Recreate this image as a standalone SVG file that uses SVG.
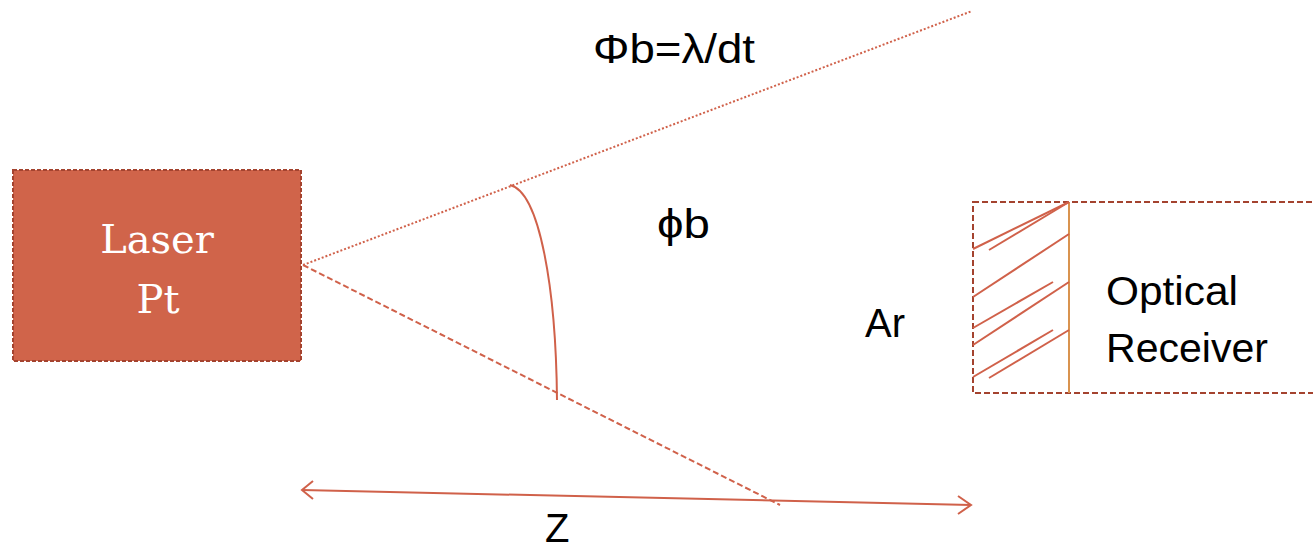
<svg xmlns="http://www.w3.org/2000/svg" width="1313" height="549" viewBox="0 0 1313 549">
<style>
.lbl{font-family:"Liberation Sans",Arial,sans-serif;font-size:40px;fill:#000}
.ser{font-family:"DejaVu Serif","Liberation Serif",serif;font-size:40px;fill:#fff}
.ln{stroke:#D0614A;fill:none;stroke-width:2}
.hatch{stroke:#D0614A;stroke-width:2}
</style>
<rect width="1313" height="549" fill="#fff"/>
<g id="laser">
<rect x="13" y="170" width="288" height="191" fill="#D0644A" stroke="#A4432F" stroke-width="2" stroke-dasharray="4 2"/>
<text class="ser" x="157" y="253" text-anchor="middle">Laser</text>
<text class="ser" x="158" y="313" text-anchor="middle">Pt</text>
</g>
<g id="receiver">
<rect x="973" y="202" width="345" height="191" fill="none" stroke="#A4432F" stroke-width="2" stroke-dasharray="6 3"/>
<line x1="1069" y1="202" x2="1069" y2="393" stroke="#D9934F" stroke-width="2"/>
<g class="hatch">
<line x1="973" y1="249" x2="1069" y2="202"/>
<line x1="989" y1="250" x2="1069" y2="202"/>
<line x1="973" y1="297" x2="1069" y2="234"/>
<line x1="973" y1="328" x2="1053" y2="282"/>
<line x1="973" y1="345" x2="1069" y2="282"/>
<line x1="973" y1="377" x2="1053" y2="330"/>
<line x1="989" y1="378" x2="1069" y2="330"/>
</g>
<text class="lbl" x="1106" y="305" font-size="43" textLength="132" lengthAdjust="spacingAndGlyphs">Optical</text>
<text class="lbl" x="1106" y="362" font-size="43" textLength="162" lengthAdjust="spacingAndGlyphs">Receiver</text>
</g>
<g id="connectors">
<line class="ln" x1="303" y1="265" x2="972" y2="11" stroke-dasharray="2 2"/>
<line class="ln" x1="303" y1="265" x2="780" y2="505" stroke-dasharray="6 3"/>
<path class="ln" d="M510,185 C540,192 556,290 557,400"/>
<line class="ln" x1="302" y1="490" x2="971" y2="505" stroke-width="3"/>
<polyline class="ln" points="313,481 302,490 313,499" stroke-width="3"/>
<polyline class="ln" points="958,496 971,505 958,514" stroke-width="3"/>
</g>
<g id="labels">
<text class="lbl" x="593" y="63" font-size="42" textLength="162" lengthAdjust="spacingAndGlyphs">Φb=λ/dt</text>
<text class="lbl" x="657" y="238" font-size="42" textLength="53" lengthAdjust="spacingAndGlyphs">ϕb</text>
<text class="lbl" x="865" y="337">Ar</text>
<text class="lbl" x="545" y="542" font-size="38">Z</text>
</g>
</svg>
